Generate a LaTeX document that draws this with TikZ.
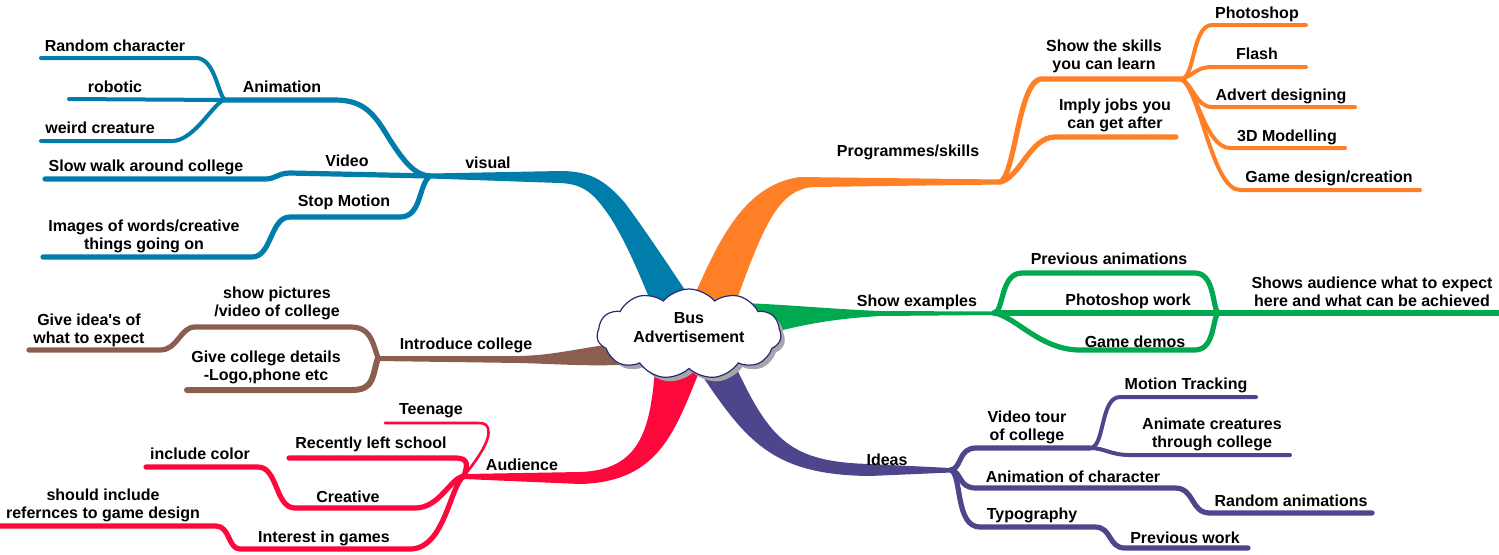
\documentclass[tikz,border=0pt]{standalone}
\usepackage{fontspec}
\setmainfont{Liberation Sans}[Ligatures=TeXOff]
\usetikzlibrary{shapes.symbols,shadows}
\definecolor{cblue}{RGB}{0,125,170}
\definecolor{corange}{RGB}{255,127,39}
\definecolor{cgreen}{RGB}{0,168,80}
\definecolor{cbrown}{RGB}{139,94,80}
\definecolor{cred}{RGB}{252,8,60}
\definecolor{cpurple}{RGB}{78,70,140}
\definecolor{cnavy}{RGB}{40,40,120}
\begin{document}
\begin{tikzpicture}[x=0.5pt,y=-0.5pt,
  lbl/.style={font=\bfseries\fontsize{8}{9}\selectfont, inner sep=0pt, align=center},
  leaf/.style={line width=2pt, line cap=round, line join=round},
  mainline/.style={line width=2.6pt, line cap=round, line join=round},
]
\useasboundingbox (0,0) rectangle (1499,554);

% ---------------- hubs and ends
\coordinate (vh) at (430,176);
\coordinate (ah) at (225,100);
\coordinate (rcE) at (41,58);
\coordinate (roE) at (69,99);
\coordinate (wcE) at (41,141);
\coordinate (viE) at (45,179);
\coordinate (smE) at (43,257);

\coordinate (ph) at (1000,182);
\coordinate (sk) at (1181,79);
\coordinate (ijE) at (1176,137);
\coordinate (psE) at (1306,25);
\coordinate (flE) at (1306,67);
\coordinate (adE) at (1355,107);
\coordinate (tdE) at (1345,148);
\coordinate (gdE) at (1420,190);

\coordinate (eh) at (994,313);
\coordinate (eh2) at (1219,313);
\coordinate (grE) at (1499,313);

\coordinate (ih) at (378,358);
\coordinate (giE) at (29,350);
\coordinate (gcE) at (187,390);

\coordinate (rh) at (464,476);
\coordinate (tnE) at (385,423);
\coordinate (rlE) at (289,458);
\coordinate (icE) at (146,467);
\coordinate (shE) at (0,526);

\coordinate (dh) at (951,470);
\coordinate (vt) at (1090,448);
\coordinate (mtE) at (1256,397);
\coordinate (acE) at (1290,455);
\coordinate (rnE) at (1372,513);
\coordinate (pwE) at (1248,548);

% ---------------- trunks
\fill[cblue] (430,173.5) -- (560,171) .. controls (590,171) and (605,180) .. (625,203) .. controls (645,230) and (665,260) .. (695,305) -- (652,305) .. controls (640,275) and (625,240) .. (610,217) .. controls (595,195) and (585,184) .. (560,183) -- (430,178.5) -- cycle;
\fill[corange] (690,305) .. controls (715,250) and (740,185) .. (800,177) -- (1000,179.5) -- (1000,184.5) -- (813,187) .. controls (780,190) and (765,220) .. (735,305) -- cycle;
\fill[cgreen] (740,303) .. controls (780,304) and (830,309) .. (880,311) -- (994,311.5) -- (994,315) -- (880,316) .. controls (830,319) and (800,325) .. (760,336) -- cycle;
\fill[cbrown] (378,356) -- (520,356) .. controls (560,355) and (590,345) .. (640,341) -- (640,364) .. controls (590,367) and (560,364) .. (520,363) -- (378,361) -- cycle;
\fill[cred] (655,370) .. controls (650,430) and (640,470) .. (580,472) -- (464,474) -- (464,479) -- (580,484) .. controls (660,482) and (675,430) .. (700,370) -- cycle;
\fill[cpurple] (735,365) .. controls (770,440) and (790,462) .. (870,464) -- (951,468) -- (951,472.5) -- (870,476) .. controls (770,475) and (745,440) .. (695,365) -- cycle;

% ---------------- blue branches
\draw[mainline,cblue] (ah) -- (335,100) .. controls (365,100) and (375,115) .. (390,140) .. controls (405,163) and (415,175) .. (vh);
\draw[leaf,cblue] (ah) .. controls (218,95) and (215,58) .. (196,58) -- (rcE);
\draw[leaf,cblue] (ah) -- (roE);
\draw[leaf,cblue] (ah) .. controls (215,100) and (195,141) .. (172,141) -- (wcE);
\draw[mainline,cblue] (vh) -- (290,173) .. controls (278,173) and (276,179) .. (265,179) -- (viE);
\draw[mainline,cblue] (vh) .. controls (418,185) and (422,217) .. (400,217) -- (290,217) .. controls (270,217) and (272,257) .. (252,257) -- (smE);

% ---------------- orange branches
\draw[mainline,corange] (ph) .. controls (1015,176) and (1018,85) .. (1040,79) -- (sk);
\draw[mainline,corange] (ph) .. controls (1020,178) and (1030,137) .. (1055,137) -- (ijE);
\draw[leaf,corange] (sk) .. controls (1195,79) and (1192,25) .. (1212,25) -- (psE);
\draw[leaf,corange] (sk) .. controls (1192,77) and (1195,67) .. (1212,67) -- (flE);
\draw[leaf,corange] (sk) .. controls (1192,83) and (1196,107) .. (1212,107) -- (adE);
\draw[leaf,corange] (sk) .. controls (1196,85) and (1205,148) .. (1230,148) -- (tdE);
\draw[leaf,corange] (sk) .. controls (1200,88) and (1212,190) .. (1240,190) -- (gdE);

% ---------------- green branches
\draw[mainline,cgreen] (eh) -- (eh2) -- (grE);
\draw[mainline,cgreen] (eh) .. controls (1004,312) and (1000,273) .. (1022,273) -- (1195,273) .. controls (1216,273) and (1212,312) .. (eh2);
\draw[mainline,cgreen] (eh) .. controls (1015,316) and (1040,350) .. (1080,350) -- (1195,350) .. controls (1216,350) and (1212,314) .. (eh2);

% ---------------- brown branches
\draw[mainline,cbrown] (ih) .. controls (372,340) and (370,327) .. (350,327) -- (195,327) .. controls (180,327) and (178,350) .. (160,350) -- (giE);
\draw[mainline,cbrown,line width=3pt] (ih) .. controls (372,375) and (375,390) .. (352,390) -- (gcE);

% ---------------- red branches
\draw[cred,line width=1.3pt,line cap=round] (rh) .. controls (475,462) and (492,440) .. (488,428) .. controls (486,424) and (484,423) .. (478,423) -- (tnE);
\draw[mainline,cred] (rh) .. controls (467,466) and (470,458) .. (455,458) -- (rlE);
\draw[mainline,cred] (rh) .. controls (450,478) and (440,508) .. (415,508) -- (295,508) .. controls (275,508) and (278,467) .. (258,467) -- (icE);
\draw[mainline,cred] (rh) .. controls (450,485) and (445,549) .. (410,549) -- (240,549) .. controls (228,549) and (230,526) .. (216,526) -- (shE);

% ---------------- purple branches
\draw[mainline,cpurple] (dh) .. controls (962,468) and (958,448) .. (976,448) -- (vt);
\draw[leaf,cpurple] (vt) .. controls (1105,448) and (1100,397) .. (1120,397) -- (mtE);
\draw[leaf,cpurple] (vt) .. controls (1105,448) and (1110,455) .. (1130,455) -- (acE);
\draw[mainline,cpurple] (dh) .. controls (962,472) and (958,488) .. (976,488) -- (1175,488) .. controls (1195,488) and (1190,513) .. (1210,513) -- (rnE);
\draw[mainline,cpurple] (dh) .. controls (962,475) and (955,527) .. (980,527) -- (1095,527) .. controls (1112,527) and (1108,548) .. (1125,548) -- (pwE);

% ---------------- central cloud
\node[cloud, cloud puffs=11, cloud puff arc=100, cloud ignores aspect, minimum width=92pt, minimum height=45pt,
      draw=cnavy, line width=0.6pt, fill=white, inner sep=0pt,
      drop shadow={shadow xshift=2pt, shadow yshift=-2pt, fill=gray!70, opacity=1}] (c) at (689,334) {};
\node[lbl, font=\bfseries\fontsize{8}{9.5}\selectfont] (cT) at (c.center) [yshift=3pt] {Bus\\Advertisement};

% ---------------- labels
\node[lbl] (tRC) at (115,46) {Random character};
\node[lbl] (tRo) at (115,87) {robotic};
\node[lbl] (tWC) at (100,128) {weird creature};
\node[lbl] (tAn) at (282,87) {Animation};
\node[lbl] (tSW) at (146,167) {Slow walk around college};
\node[lbl] (tVi) at (347,161) {Video};
\node[lbl] (tSM) at (344,202) {Stop Motion};
\node[lbl] (tIW) at (144,236) {Images of words/creative\\things going on};
\node[lbl] (tVs) at (488,163) {visual};

\node[lbl] (tPS) at (908,152) {Programmes/skills};
\node[lbl] (tSS) at (1104,56) {Show the skills\\you can learn};
\node[lbl] (tIJ) at (1115,115) {Imply jobs you\\can get after};
\node[lbl] (tPh) at (1257,14) {Photoshop};
\node[lbl] (tFl) at (1257,54) {Flash};
\node[lbl] (tAD) at (1281,96) {Advert designing};
\node[lbl] (t3D) at (1287,137) {3D Modelling};
\node[lbl] (tGD) at (1329,178) {Game design/creation};

\node[lbl] (tSE) at (917,302) {Show examples};
\node[lbl] (tPA) at (1109,259) {Previous animations};
\node[lbl] (tPW) at (1128,301) {Photoshop work};
\node[lbl] (tGm) at (1135,342) {Game demos};
\node[lbl] (tSA) at (1372,292) {Shows audience what to expect\\here and what can be achieved};

\node[lbl] (tIC) at (466,345) {Introduce college};
\node[lbl] (tSP) at (277,303) {show pictures\\/video of college};
\node[lbl] (tGI) at (89,330) {Give idea's of\\what to expect};
\node[lbl] (tCD) at (266,367) {Give college details\\-Logo,phone etc};

\node[lbl] (tAu) at (522,465) {Audience};
\node[lbl] (tTe) at (431,411) {Teenage};
\node[lbl] (tRL) at (371,444) {Recently left school};
\node[lbl] (tCo) at (200,454) {include color};
\node[lbl] (tCr) at (348,497) {Creative};
\node[lbl] (tIG) at (324,538) {Interest in games};
\node[lbl] (tSI) at (103,505) {should include\\refernces to game design};

\node[lbl] (tId) at (887,460) {Ideas};
\node[lbl] (tVT) at (1027,427) {Video tour\\of college};
\node[lbl] (tMT) at (1186,385) {Motion Tracking};
\node[lbl] (tAC) at (1212,434) {Animate creatures\\through college};
\node[lbl] (tAoC) at (1073,477) {Animation of character};
\node[lbl] (tRA) at (1291,501) {Random animations};
\node[lbl] (tTy) at (1032,515) {Typography};
\node[lbl] (tPWk) at (1185,538) {Previous work};
\end{tikzpicture}
\end{document}
